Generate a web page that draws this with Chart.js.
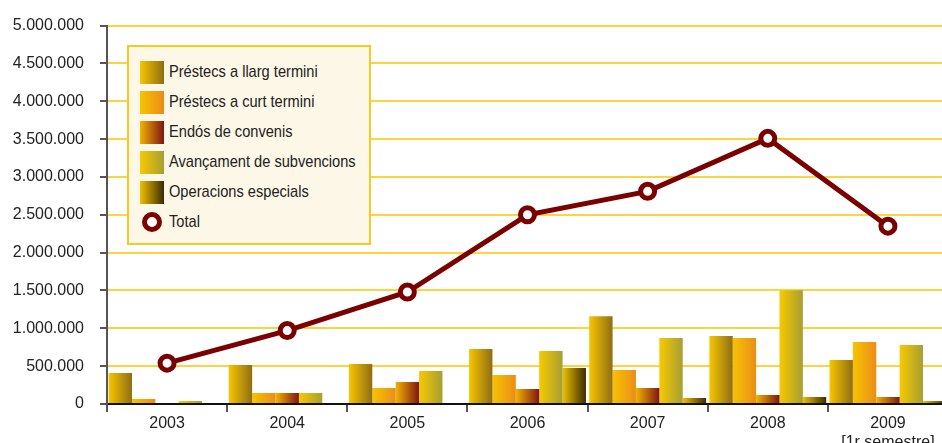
<!DOCTYPE html>
<html>
<head>
<meta charset="utf-8">
<script src="https://cdn.jsdelivr.net/npm/chart.js@4"></script>
<style>
  html, body { margin: 0; padding: 0; background: #fff; overflow: hidden; }
  #wrap { position: relative; width: 942px; height: 443px; overflow: hidden; }
  #chart-box { position: absolute; left: 0; top: 0; width: 960px; height: 443px; }
  #legend {
    position: absolute; left: 127px; top: 45px; width: 244px; height: 200px;
    box-sizing: border-box; background: #fdf7e7; border: 2px solid #f7c923;
    padding: 10px 0 0 11px;
    font-family: 'Liberation Sans', Arial, sans-serif;
    font-size: 17px; color: #222;
  }
  .row { display: flex; align-items: center; height: 30px; white-space: nowrap; }
  .row span { display: inline-block; transform: scaleX(0.86); transform-origin: left center; }
  .sw { width: 24px; height: 23px; margin-right: 5px; flex: none; }
  .ring { width: 20px; height: 20px; box-sizing: border-box; border-radius: 50%; flex: none;
          border: 5px solid #7b0000; background: #fff; margin: 0 7px 0 2px; }
</style>
</head>
<body>
<div id="wrap">
  <div id="chart-box"><canvas id="chart"></canvas></div>
  <div id="legend"></div>
</div>
<script>
const categories = ['2003', '2004', '2005', '2006', '2007', '2008', ['2009', '[1r semestre]']];

const llargTermini = [410000, 515000, 528000, 726000, 1161000, 897000, 580000];
const curtTermini  = [65000, 145000, 211000, 383000, 449000, 871000, 818000];
const endosConvenis = [0, 145000, 290000, 198000, 211000, 119000, 92000];
const avancament = [40000, 145000, 435000, 699000, 871000, 1504000, 778000];
const operacions = [0, 0, 0, 475000, 79000, 92000, 40000];
const totals = [540000, 970000, 1480000, 2500000, 2810000, 3510000, 2350000];

const yTicks = { min: 0, max: 5000000, step: 500000 };

const barSeries = [
  { label: 'Préstecs a llarg termini', data: llargTermini, colors: ['#f7c600', '#8f6d14'] },
  { label: 'Préstecs a curt termini', data: curtTermini, colors: ['#f8c300', '#e98d1a'] },
  { label: 'Endós de convenis', data: endosConvenis, colors: ['#f2b300', '#7f1514'] },
  { label: 'Avançament de subvencions', data: avancament, colors: ['#f8c900', '#a69f34'] },
  { label: 'Operacions especials', data: operacions, colors: ['#f0c000', '#3a2b06'] },
];

const CAT_PCT = 0.973;

function barGradient(c) {
  const stops = barSeries[c.datasetIndex].colors;
  const chart = c.chart;
  const xs = chart.scales.x;
  if (!xs || !chart.chartArea || c.dataIndex === undefined) return stops[0];
  const cw = xs.width / categories.length;
  const gw = cw * CAT_PCT;
  const bw = gw / barSeries.length;
  const left = xs.getPixelForValue(c.dataIndex) - gw / 2 + c.datasetIndex * bw;
  const g = chart.ctx.createLinearGradient(left, 0, left + bw, 0);
  g.addColorStop(0, stops[0]);
  g.addColorStop(1, stops[1]);
  return g;
}

function formatNum(v) {
  return String(v).replace(/\B(?=(\d{3})+(?!\d))/g, '.');
}

const datasets = barSeries.map(s => ({
  type: 'bar',
  label: s.label,
  data: s.data,
  backgroundColor: barGradient,
  borderWidth: 0,
  barPercentage: 1,
  categoryPercentage: CAT_PCT,
  order: 1,
}));

datasets.push({
  type: 'line',
  label: 'Total',
  data: totals,
  borderColor: '#7b0000',
  borderWidth: 5,
  pointRadius: 7,
  pointBorderWidth: 5,
  pointBackgroundColor: '#fff',
  pointBorderColor: '#7b0000',
  order: 0,
});

const font = { family: "'Liberation Sans', Arial, sans-serif", size: 16 };

new Chart(document.getElementById('chart'), {
  data: { labels: categories, datasets },
  options: {
    responsive: true,
    maintainAspectRatio: false,
    animation: false,
    layout: { padding: { top: 25, left: 0, right: 7.4, bottom: 0 } },
    plugins: { legend: { display: false }, tooltip: { enabled: false } },
    scales: {
      x: {
        offset: true,
        grid: { drawOnChartArea: false, drawTicks: true, tickLength: 8, tickColor: '#555', lineWidth: 2 },
        border: { color: '#111', width: 2 },
        ticks: { color: '#222', font, padding: 2, maxRotation: 0, autoSkip: false },
        afterFit: s => { s.height = 39; },
      },
      y: {
        min: yTicks.min,
        max: yTicks.max,
        grid: {
          color: c => c.tick && c.tick.value === 0 ? 'rgba(0,0,0,0)' : '#fcd440',
          lineWidth: 2,
          tickLength: 7,
          tickColor: '#555',
        },
        border: { color: '#555', width: 2 },
        ticks: { stepSize: yTicks.step, color: '#222', font, padding: 16, callback: v => formatNum(v) },
        afterFit: s => { s.width = 107; },
      },
    },
  },
});

// legend box
const legend = document.getElementById('legend');
legend.innerHTML = barSeries.map(s => `
  <div class="row"><div class="sw" style="background:linear-gradient(to right, ${s.colors[0]}, ${s.colors[1]})"></div><span>${s.label}</span></div>
`).join('') + '<div class="row"><div class="ring"></div><span>Total</span></div>';
</script>
</body>
</html>
